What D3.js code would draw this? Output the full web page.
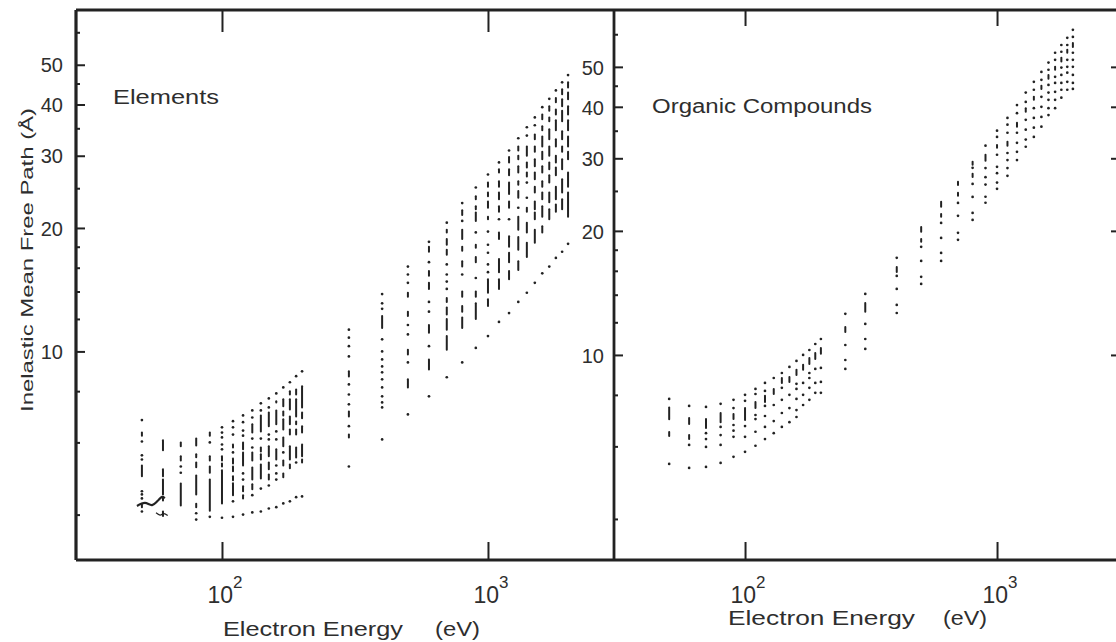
<!DOCTYPE html>
<html>
<head>
<meta charset="utf-8">
<script src="https://cdn.jsdelivr.net/npm/d3@7/dist/d3.min.js"></script>
<style>
  body { margin: 0; background: #fff; }
  svg { display: block; font-family: "Liberation Sans", Arial, sans-serif; }
</style>
</head>
<body>
<div id="chart"></div>
<script>
// Electron energies (eV) of each column of points
const elemEnergies = [50, 60, 70, 80, 90, 100, 110, 120, 130, 140, 150, 160, 170, 180, 190, 200,
  300, 400, 500, 600, 700, 800, 900, 1000, 1100, 1200, 1300, 1400, 1500, 1600, 1700, 1800, 1900, 2000];

// IMFP values (Å) per column; a [hi, lo] pair is a run of overlapping points
const elemColumns = [
  [6.80, [6.34, 6.23], 6.03, 5.58, 5.45, [5.27, 4.96], 4.56, 4.48, 4.38, [4.23, 4.17], 4.07],
  [[6.07, 5.74], [5.16, 4.96], [4.87, 4.48], [4.41, 4.33], [4.07, 3.97]],
  [[6.00, 5.87], [5.55, 5.42], 5.24, 5.06, [4.76, 4.21]],
  [[6.13, 5.90], [5.61, 5.52], [5.36, 5.22], [4.98, 4.48], [4.25, 4.17], 4.03, 3.89],
  [[6.34, 6.23], 6.00, [5.55, 5.42], [5.24, 5.06], [4.87, 4.09], 3.95],
  [6.53, 6.34, 6.17, 5.93, 5.77, [5.55, 5.42], [5.33, 5.24], [5.13, 4.26], 3.93],
  [6.76, 6.53, 6.27, [5.93, 5.83], 5.67, [5.48, 5.33], [5.24, 5.10], [4.96, 4.85], [4.77, 4.46], 4.31, 3.95],
  [6.98, 6.72, 6.41, 6.23, [6.00, 5.77], [5.67, 5.27], 5.04, 4.87, [4.69, 4.56], [4.46, 4.38], 4.00],
  [7.18, 6.90, [6.64, 6.34], 6.13, 5.83, [5.67, 5.42], [5.21, 4.87], [4.74, 4.61], 4.46, 4.05],
  [7.47, 7.18, [6.98, 6.38], 6.13, [5.83, 5.70], [5.61, 5.45], [5.30, 4.90], 4.63, 4.07],
  [7.68, 7.30, [7.10, 6.57], 6.27, 6.10, [5.87, 5.55], [5.36, 5.16], [5.01, 4.87], 4.71, 4.14],
  [7.90, [7.56, 7.51], [7.18, 6.64], 6.38, 6.10, [5.77, 5.45], 5.27, 5.04, 4.87, 4.17],
  [8.17, [7.64, 7.35], [7.14, 6.98], [6.83, 6.45], [6.17, 5.87], 5.67, [5.42, 5.27], [5.04, 4.93], 4.26],
  [8.41, [8.00, 7.85], [7.64, 7.22], [6.94, 6.64], [6.45, 6.27], [5.87, 5.45], [5.30, 5.19], 4.31],
  [8.70, [8.08, 7.85], [7.64, 6.94], [6.75, 6.64], [6.45, 6.27], [5.83, 5.51], 5.36, 4.41],
  [8.94, [8.22, 7.30], [7.10, 6.87], [6.57, 6.34], [5.93, 5.55], [5.45, 5.36], 4.43],
  [11.3, 10.8, 10.3, 9.72, [8.94, 8.69], 8.31, 7.85, 7.43, [7.14, 6.94], 6.57, [6.27, 6.17], 5.24],
  [13.8, 13.1, 12.7, [12.2, 11.4], 10.7, 10.0, 9.56, 9.19, 8.89, 8.55, 8.17, 7.77, 7.51, 7.30, 6.10],
  [16.1, 15.4, 14.7, [13.9, 13.6], [12.5, 12.2], 11.6, 11.0, [10.1, 9.83], 9.40, [8.55, 8.17], 7.02],
  [18.5, [18.0, 17.5], 16.5, [15.7, 15.3], [14.7, 14.2], 13.2, 12.5, [11.6, 11.1], 10.3, [9.56, 9.04], 7.77],
  [20.6, [19.8, 19.5], [18.8, 18.2], [17.7, 17.2], 16.3, 15.4, 14.8, 14.2, [13.5, 13.2], [12.8, 12.3], [12.0, 11.3], [10.9, 10.1], 8.65],
  [23.0, [22.1, 21.5], 20.8, [19.8, 18.8], [18.0, 17.6], [16.6, 16.1], 15.4, [14.0, 13.6], [12.9, 12.5], [12.1, 11.4], 9.40],
  [25.1, [23.9, 23.5], [22.6, 22.2], [21.8, 20.8], 19.5, [18.2, 17.9], [17.0, 16.5], 15.1, [14.0, 13.6], [13.1, 12.0], 10.2],
  [27.0, [25.8, 25.2], [24.4, 23.9], [23.2, 22.4], [21.3, 21.0], 19.6, 18.2, 17.4, 16.3, 15.6, [15.0, 13.9], [13.4, 12.9], 10.9],
  [28.9, [27.8, 27.3], [26.0, 25.2], [24.4, 23.5], [22.6, 21.9], 21.0, [19.5, 18.8], [16.8, 15.6], [15.0, 14.2], 11.8],
  [30.9, [29.8, 28.9], [27.8, 26.9], [25.8, 24.2], [23.2, 22.4], 21.0, [19.1, 18.0], [17.4, 16.5], [15.7, 15.0], 12.4],
  [33.1, [31.6, 30.9], [30.0, 29.4], [28.3, 27.3], [26.0, 25.5], [24.6, 23.7], 22.4, [21.3, 19.8], [19.0, 17.7], [16.6, 15.8], 13.2],
  [35.2, 33.6, [31.6, 30.0], [28.9, 28.1], [27.3, 26.7], 25.8, 23.7, [22.4, 21.9], [20.6, 19.5], [18.4, 17.0], 13.9],
  [37.2, 35.6, [33.8, 32.9], [31.6, 30.7], [29.4, 28.3], [27.3, 26.3], [25.2, 24.4], [23.2, 22.2], [21.8, 21.0], [19.8, 18.4], 14.7],
  [39.4, [37.8, 36.8], [35.4, 34.6], [33.4, 31.6], [30.7, 29.4], [28.3, 27.3], [26.0, 25.2], [24.4, 23.5], [22.6, 21.3], [20.2, 19.5], 15.5],
  [41.3, [39.6, 38.6], [37.2, 36.4], [34.8, 32.9], [31.6, 30.0], [28.9, 27.8], [26.9, 25.8], [24.4, 23.1], [22.2, 21.0], 16.1],
  [43.3, [41.5, 40.5], [38.9, 37.8], [36.6, 34.6], [32.9, 31.6], [30.0, 28.9], [28.1, 26.9], [25.2, 23.5], [22.8, 21.9], 16.9],
  [45.3, [43.6, 42.4], [41.2, 39.6], [38.6, 36.4], [34.4, 32.9], [31.6, 30.7], [29.4, 27.8], [26.3, 24.4], [23.5, 22.2], 17.5],
  [47.2, [45.3, 44.0], [42.8, 41.2], [39.6, 37.8], [36.6, 34.6], [33.4, 31.6], [30.7, 29.4], [27.3, 25.2], [24.4, 21.3], 18.3]
];

// the two small hand-drawn squiggles near 50-60 eV in the Elements panel
const squiggleEnergies = [47.9, 51.3, 54.6, 57.5, 59.5, 61.0];
const squiggleValues   = [4.20, 4.27, 4.22, 4.33, 4.42, 4.39];
const squiggle2Energies = [56.5, 58.5, 60.5, 62.5];
const squiggle2Values   = [4.04, 3.99, 4.02, 3.98];

const orgEnergies = [50, 60, 70, 80, 90, 100, 110, 120, 130, 140, 150, 160, 170, 180, 190, 200,
  250, 300, 400, 500, 600, 700, 800, 900, 1000, 1100, 1200, 1300, 1400, 1500, 1600, 1700, 1800, 1900, 2000];

const orgColumns = [
  [7.82, [7.45, 6.98], [6.50, 6.36], 5.44],
  [7.52, [7.03, 6.80], [6.39, 6.25], 6.05, 5.32],
  [7.48, [6.99, 6.65], 6.46, 6.25, 5.98, 5.35],
  [7.61, [7.23, 6.87], 6.69, 6.39, 6.05, 5.47],
  [7.78, 7.43, [7.19, 6.99], 6.76, 6.55, 6.33, 5.66],
  [8.00, 7.74, [7.43, 6.95], 6.72, 6.33, 5.82],
  [8.27, 8.04, [7.69, 7.43], 7.15, 6.99, 6.51, 6.02],
  [8.55, 8.18, [7.96, 7.69], 7.52, 7.11, 6.69, 6.25],
  [8.79, [8.27, 8.04], 7.56, 6.91, 6.46],
  [9.04, [8.79, 8.55], 8.32, 7.78, 7.23, 6.69],
  [9.35, [8.84, 8.60], 8.00, 7.43, 6.87],
  [9.67, [9.20, 8.94], 8.51, 8.27, 7.82, 7.35, 7.07],
  [10.0, [9.46, 9.20], 8.55, 8.00, 7.56],
  [10.28, [9.83, 9.51], 9.04, 8.79, 8.32, 7.78],
  [10.63, [10.11, 9.78], 9.25, 8.55, 8.09],
  [10.93, [10.40, 10.06], 9.30, 8.60, 8.09],
  [12.58, [11.69, 11.37], 10.57, 9.72, 9.25],
  [14.06, [13.37, 12.72], 11.89, 10.93, 10.34],
  [17.20, [16.35, 15.90], 15.55, 14.46, 13.22, 12.64],
  [[20.45, 19.89], [19.12, 18.81], 18.29, 16.91, 15.47, 14.87],
  [[23.52, 22.87], [21.99, 21.63], 20.91, 19.23, 17.68, 16.91],
  [[26.30, 25.86], [24.74, 24.32], 23.38, 21.75, 19.78, 19.02],
  [[29.41, 28.93], 28.44, [27.50, 27.04], 26.00, 24.18, 22.11, 21.26],
  [32.2, [30.6, 29.6], 28.4, 27.0, 25.9, 24.2, 23.4],
  [35.0, 33.8, [32.3, 31.8], 30.6, 28.6, 27.6, 26.2, 25.3],
  [37.6, 36.2, 34.6, [32.9, 32.2], 30.9, 29.7, 28.4, 27.2],
  [40.4, 38.6, [36.6, 35.8], 34.6, 32.7, 31.1, 29.7],
  [43.3, 41.1, [39.7, 38.9], 37.2, 35.2, 33.3, 32.0],
  [46.0, 44.0, [42.3, 41.6], 39.7, 37.6, 35.6, 33.8],
  [48.6, 46.5, [45.0, 44.2], 42.3, 40.0, 37.8, 35.8],
  [51.2, 49.2, [47.8, 46.8], 45.2, 43.3, 41.6, 39.7, 38.2],
  [54.1, 52.0, [50.0, 49.2], 47.3, 45.7, 43.5, 41.6, 39.7],
  [56.5, 54.4, [52.6, 51.5], 49.8, 47.8, 45.7, 44.0, 42.1],
  [58.8, 56.5, [55.0, 54.1], 52.0, 50.0, 48.4, 46.0, 44.0],
  [61.5, 59.1, [57.1, 55.9], 54.1, 52.0, 50.0, 47.8, 45.7, 44.2]
];

const yMajorTicks = [10, 20, 30, 40, 50];
const yMinorTicks = [4, 6, 8, 12, 14, 16, 18, 25, 35, 45, 60];
const xTicks = [100, 1000];
const xTickExponents = ["2", "3"];

const W = 1116, H = 642;
const ink = "#222";
const textInk = "#2e2e2e";
const plotTop = 10, plotBottom = 560;

const svg = d3.select("#chart").append("svg")
    .attr("width", W).attr("height", H);

const panels = [
  { title: "Elements", energies: elemEnergies, columns: elemColumns,
    left: 76, right: 614, xDomain: [28.26, 2977], yDomain: [3.1, 68],
    titleX: 113, titleY: 104, titleLen: 106, labelPad: 13, topTick: 22,
    xLabel: { x: 223, y: 636, len: 180, unitX: 435, unitLen: 45 },
    squiggles: [[squiggleEnergies, squiggleValues], [squiggle2Energies, squiggle2Values]] },
  { title: "Organic Compounds", energies: orgEnergies, columns: orgColumns,
    left: 614, right: 1120, xDomain: [30.2, 3076], yDomain: [3.18, 68.7],
    titleX: 652, titleY: 113, titleLen: 220, labelPad: 10, topTick: 16,
    xLabel: { x: 728, y: 625, len: 187, unitX: 943, unitLen: 44 },
    squiggles: [] }
];

// stretched text, imitating the wide typeface of the scan
function wideText(sel, x, y, len, size, str) {
  return sel.append("text").attr("x", x).attr("y", y)
      .attr("textLength", len).attr("lengthAdjust", "spacingAndGlyphs")
      .attr("fill", textInk).style("font-size", size + "px").text(str);
}

panels.forEach(p => {
  const x = d3.scaleLog().domain(p.xDomain).range([p.left, p.right]);
  const y = d3.scaleLog().domain(p.yDomain).range([plotBottom, plotTop]);
  const g = svg.append("g");

  // y axis: majors with labels, minors without (ticks point inward)
  const yAx = g.append("g").attr("transform", `translate(${p.left},0)`)
      .call(d3.axisLeft(y).tickValues(yMajorTicks).tickSize(-9).tickPadding(p.labelPad).tickFormat(d3.format("d")));
  yAx.selectAll("text").attr("fill", textInk).style("font-size", "20px").attr("dy", "0.36em");
  g.append("g").attr("transform", `translate(${p.left},0)`)
      .call(d3.axisLeft(y).tickValues(yMinorTicks).tickSize(-4).tickFormat(""));

  // x axis ticks bottom / top
  g.append("g").attr("transform", `translate(0,${plotBottom})`)
      .call(d3.axisBottom(x).tickValues(xTicks).tickSize(-18).tickFormat(""));
  g.append("g").attr("transform", `translate(0,${plotTop})`)
      .call(d3.axisTop(x).tickValues(xTicks).tickSize(-p.topTick).tickFormat(""));

  g.selectAll(".domain").remove();
  g.selectAll(".tick line").attr("stroke", ink).attr("stroke-width", 2);

  // 10^n labels
  xTicks.forEach((t, i) => {
    const tx = g.append("text").attr("x", x(t) + 3).attr("y", plotBottom + 43)
        .attr("text-anchor", "middle").attr("fill", textInk).style("font-size", "23px");
    tx.append("tspan").text("10");
    tx.append("tspan").attr("dy", -15).style("font-size", "17px").text(xTickExponents[i]);
  });

  // axis title
  wideText(g, p.xLabel.x, p.xLabel.y, p.xLabel.len, 21, "Electron Energy");
  wideText(g, p.xLabel.unitX, p.xLabel.y, p.xLabel.unitLen, 21, "(eV)");

  // panel title
  wideText(g, p.titleX, p.titleY, p.titleLen, 20, p.title);

  // flatten the columns into marks
  const marks = [];
  p.energies.forEach((e, i) => {
    p.columns[i].forEach(v => marks.push(Array.isArray(v) ? { e, hi: v[0], lo: v[1] } : { e, v }));
  });

  g.selectAll(".run").data(marks.filter(d => d.hi !== undefined)).join("line")
      .attr("class", "run")
      .attr("x1", d => x(d.e)).attr("x2", d => x(d.e))
      .attr("y1", d => y(d.hi)).attr("y2", d => y(d.lo))
      .attr("stroke", ink).attr("stroke-width", 2).attr("stroke-linecap", "round");

  g.selectAll(".pt").data(marks.filter(d => d.v !== undefined)).join("circle")
      .attr("class", "pt")
      .attr("cx", d => x(d.e)).attr("cy", d => y(d.v))
      .attr("r", 1.35).attr("fill", ink);

  const squiggleLine = d3.line().curve(d3.curveCatmullRom).x(d => x(d[0])).y(d => y(d[1]));
  p.squiggles.forEach(([es, vs], k) => {
    g.append("path").datum(es.map((e, i) => [e, vs[i]]))
        .attr("d", squiggleLine).attr("fill", "none")
        .attr("stroke", ink).attr("stroke-width", k === 0 ? 2.2 : 1.2);
  });
});

// right-hand axis of the second panel (mostly off the page)
const yR = d3.scaleLog().domain(panels[1].yDomain).range([plotBottom, plotTop]);
const rAx = svg.append("g").attr("transform", "translate(1120,0)");
rAx.call(d3.axisRight(yR).tickValues(yMajorTicks).tickSize(-9).tickFormat(""));
rAx.append("g").call(d3.axisRight(yR).tickValues(yMinorTicks).tickSize(-4).tickFormat(""));
rAx.selectAll(".domain").remove();
rAx.selectAll(".tick line").attr("stroke", ink).attr("stroke-width", 2);

// frame
const frame = svg.append("g").attr("stroke", ink).attr("stroke-width", 2.8).attr("fill", "none");
frame.append("line").attr("x1", 76).attr("x2", 1120).attr("y1", plotTop).attr("y2", plotTop);
frame.append("line").attr("x1", 76).attr("x2", 1120).attr("y1", plotBottom).attr("y2", plotBottom);
frame.append("line").attr("x1", 76).attr("x2", 76).attr("y1", plotTop).attr("y2", plotBottom).attr("stroke-width", 3.2);
frame.append("line").attr("x1", 614).attr("x2", 614).attr("y1", plotTop).attr("y2", plotBottom);

// y axis title
svg.append("text")
    .attr("transform", "translate(33,260) rotate(-90)")
    .attr("text-anchor", "middle")
    .attr("textLength", 304).attr("lengthAdjust", "spacingAndGlyphs")
    .attr("fill", textInk).style("font-size", "16px")
    .text("Inelastic Mean Free Path  (Å)");
</script>
</body>
</html>
